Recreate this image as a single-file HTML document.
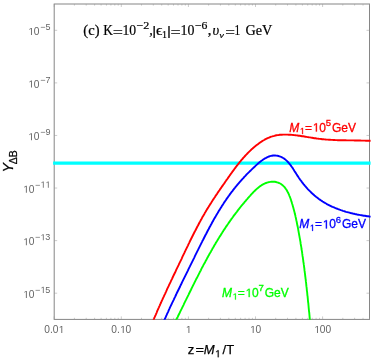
<!DOCTYPE html>
<html><head><meta charset="utf-8"><title>plot</title>
<style>
html,body{margin:0;padding:0;background:#fff;}
body{width:374px;height:360px;overflow:hidden;position:relative;font-family:"Liberation Sans",sans-serif;}
</style></head><body>
<svg width="374" height="360" viewBox="0 0 374 360" style="position:absolute;left:0;top:0">
<rect width="374" height="360" fill="#fff"/>
<defs><clipPath id="cp"><rect x="53.10" y="2.90" width="317.50" height="316.90"/></clipPath></defs>
<rect x="54.20" y="4.00" width="315.30" height="315.40" fill="none" stroke="#868686" stroke-width="1"/>
<path d="M54.20 293.20 h3 M369.50 293.20 h-3 M54.20 240.62 h3 M369.50 240.62 h-3 M54.20 188.04 h3 M369.50 188.04 h-3 M54.20 135.46 h3 M369.50 135.46 h-3 M54.20 82.88 h3 M369.50 82.88 h-3 M54.20 30.30 h3 M369.50 30.30 h-3 M54.20 319.40 v-3.0 M54.20 4.00 v3.0 M74.40 319.40 v-1.6 M74.40 4.00 v1.6 M86.21 319.40 v-1.6 M86.21 4.00 v1.6 M94.60 319.40 v-1.6 M94.60 4.00 v1.6 M101.10 319.40 v-1.6 M101.10 4.00 v1.6 M106.41 319.40 v-1.6 M106.41 4.00 v1.6 M110.91 319.40 v-1.6 M110.91 4.00 v1.6 M114.80 319.40 v-1.6 M114.80 4.00 v1.6 M118.23 319.40 v-1.6 M118.23 4.00 v1.6 M121.30 319.40 v-3.0 M121.30 4.00 v3.0 M141.50 319.40 v-1.6 M141.50 4.00 v1.6 M153.31 319.40 v-1.6 M153.31 4.00 v1.6 M161.70 319.40 v-1.6 M161.70 4.00 v1.6 M168.20 319.40 v-1.6 M168.20 4.00 v1.6 M173.51 319.40 v-1.6 M173.51 4.00 v1.6 M178.01 319.40 v-1.6 M178.01 4.00 v1.6 M181.90 319.40 v-1.6 M181.90 4.00 v1.6 M185.33 319.40 v-1.6 M185.33 4.00 v1.6 M188.40 319.40 v-3.0 M188.40 4.00 v3.0 M208.60 319.40 v-1.6 M208.60 4.00 v1.6 M220.41 319.40 v-1.6 M220.41 4.00 v1.6 M228.80 319.40 v-1.6 M228.80 4.00 v1.6 M235.30 319.40 v-1.6 M235.30 4.00 v1.6 M240.61 319.40 v-1.6 M240.61 4.00 v1.6 M245.11 319.40 v-1.6 M245.11 4.00 v1.6 M249.00 319.40 v-1.6 M249.00 4.00 v1.6 M252.43 319.40 v-1.6 M252.43 4.00 v1.6 M255.50 319.40 v-3.0 M255.50 4.00 v3.0 M275.70 319.40 v-1.6 M275.70 4.00 v1.6 M287.51 319.40 v-1.6 M287.51 4.00 v1.6 M295.90 319.40 v-1.6 M295.90 4.00 v1.6 M302.40 319.40 v-1.6 M302.40 4.00 v1.6 M307.71 319.40 v-1.6 M307.71 4.00 v1.6 M312.21 319.40 v-1.6 M312.21 4.00 v1.6 M316.10 319.40 v-1.6 M316.10 4.00 v1.6 M319.53 319.40 v-1.6 M319.53 4.00 v1.6 M322.60 319.40 v-3.0 M322.60 4.00 v3.0 M342.80 319.40 v-1.6 M342.80 4.00 v1.6 M354.61 319.40 v-1.6 M354.61 4.00 v1.6 M363.00 319.40 v-1.6 M363.00 4.00 v1.6 M369.50 319.40 v-1.6 M369.50 4.00 v1.6" stroke="#999" stroke-width="0.5" fill="none"/>
<g clip-path="url(#cp)" fill="none" stroke-linecap="butt" stroke-linejoin="round">
<line x1="52.20" y1="163.2" x2="371.50" y2="163.2" stroke="#00ffff" stroke-width="3.3"/>
<path d="M150.1 328.3 L150.5 327.3 L150.9 326.3 L151.3 325.2 L151.8 324.2 L152.2 323.1 L152.6 322.1 L153.1 321.0 L153.5 320.0 L153.9 319.0 L154.3 317.9 L154.8 316.9 L155.2 315.9 L155.7 314.8 L156.1 313.8 L156.6 312.8 L157.0 311.7 L157.4 310.7 L157.9 309.7 L158.3 308.6 L158.8 307.6 L159.2 306.6 L159.7 305.6 L160.2 304.5 L160.6 303.5 L161.1 302.5 L161.5 301.5 L162.0 300.4 L162.5 299.4 L162.9 298.4 L163.4 297.4 L163.9 296.4 L164.3 295.3 L164.8 294.3 L165.3 293.3 L165.7 292.3 L166.2 291.3 L166.7 290.2 L167.1 289.2 L167.6 288.2 L168.1 287.2 L168.6 286.2 L169.0 285.2 L169.5 284.1 L170.0 283.1 L170.5 282.1 L170.9 281.1 L171.4 280.1 L171.9 279.1 L172.4 278.0 L172.9 277.0 L173.3 276.0 L173.8 275.0 L174.3 274.0 L174.8 273.0 L175.3 272.0 L175.8 270.9 L176.2 269.9 L176.7 268.9 L177.2 267.9 L177.7 266.9 L178.2 265.9 L178.7 264.9 L179.1 263.8 L179.6 262.8 L180.1 261.8 L180.6 260.8 L181.1 259.8 L181.6 258.8 L182.0 257.8 L182.5 256.7 L183.0 255.7 L183.5 254.7 L184.0 253.7 L184.5 252.7 L184.9 251.7 L185.4 250.7 L185.9 249.6 L186.4 248.6 L186.9 247.6 L187.4 246.6 L187.9 245.6 L188.3 244.6 L188.8 243.6 L189.3 242.6 L189.8 241.5 L190.3 240.5 L190.8 239.5 L191.3 238.5 L191.8 237.5 L192.3 236.5 L192.8 235.5 L193.3 234.5 L193.8 233.5 L194.3 232.5 L194.8 231.5 L195.4 230.5 L195.9 229.5 L196.4 228.5 L196.9 227.5 L197.4 226.5 L198.0 225.5 L198.5 224.5 L199.0 223.5 L199.5 222.5 L200.1 221.5 L200.6 220.6 L201.2 219.6 L201.7 218.6 L202.2 217.6 L202.8 216.6 L203.3 215.7 L203.9 214.7 L204.5 213.7 L205.0 212.7 L205.6 211.8 L206.2 210.8 L206.7 209.8 L207.3 208.9 L207.9 207.9 L208.5 207.0 L209.1 206.0 L209.7 205.1 L210.3 204.1 L210.9 203.2 L211.5 202.2 L212.1 201.3 L212.7 200.3 L213.3 199.4 L213.9 198.4 L214.6 197.5 L215.2 196.6 L215.8 195.6 L216.4 194.7 L217.1 193.8 L217.7 192.8 L218.3 191.9 L218.9 191.0 L219.6 190.1 L220.2 189.1 L220.9 188.2 L221.5 187.3 L222.1 186.4 L222.8 185.4 L223.4 184.5 L224.1 183.6 L224.7 182.7 L225.3 181.8 L226.0 180.8 L226.6 179.9 L227.3 179.0 L227.9 178.1 L228.5 177.2 L229.2 176.3 L229.8 175.3 L230.5 174.4 L231.1 173.5 L231.8 172.6 L232.4 171.7 L233.1 170.8 L233.8 169.9 L234.4 169.0 L235.1 168.1 L235.8 167.2 L236.4 166.3 L237.1 165.4 L237.8 164.6 L238.5 163.7 L239.2 162.8 L239.9 161.9 L240.6 161.1 L241.3 160.2 L242.1 159.3 L242.8 158.5 L243.5 157.7 L244.3 156.8 L245.0 156.0 L245.8 155.1 L246.6 154.3 L247.4 153.5 L248.2 152.7 L249.0 151.9 L249.8 151.1 L250.6 150.3 L251.4 149.5 L252.3 148.8 L253.1 148.0 L254.0 147.2 L254.9 146.5 L255.8 145.8 L256.7 145.1 L257.6 144.4 L258.5 143.7 L259.4 143.0 L260.3 142.4 L261.3 141.7 L262.2 141.1 L263.2 140.5 L264.2 140.0 L265.1 139.4 L266.1 138.9 L267.1 138.4 L268.1 138.0 L269.2 137.5 L270.2 137.1 L271.2 136.7 L272.3 136.4 L273.3 136.1 L274.4 135.8 L275.4 135.5 L276.5 135.3 L277.6 135.1 L278.7 135.0 L279.7 134.8 L280.8 134.7 L281.9 134.7 L283.1 134.6 L284.2 134.6 L285.3 134.6 L286.4 134.6 L287.5 134.6 L288.6 134.7 L289.7 134.7 L290.9 134.8 L292.0 134.9 L293.1 135.0 L294.2 135.1 L295.3 135.2 L296.5 135.4 L297.6 135.5 L298.7 135.7 L299.8 135.8 L300.9 136.0 L302.1 136.2 L303.2 136.3 L304.3 136.5 L305.4 136.7 L306.5 136.9 L307.6 137.1 L308.8 137.3 L309.9 137.4 L311.0 137.6 L312.1 137.8 L313.2 138.0 L314.4 138.2 L315.5 138.3 L316.6 138.5 L317.7 138.6 L318.8 138.8 L319.9 138.9 L321.1 139.0 L322.2 139.2 L323.3 139.3 L324.4 139.4 L325.5 139.5 L326.6 139.6 L327.8 139.6 L328.9 139.7 L330.0 139.8 L331.1 139.9 L332.2 139.9 L333.4 140.0 L334.5 140.0 L335.6 140.1 L336.7 140.1 L337.8 140.2 L339.0 140.2 L340.1 140.2 L341.2 140.2 L342.3 140.3 L343.4 140.3 L344.6 140.3 L345.7 140.3 L346.8 140.4 L347.9 140.4 L349.0 140.4 L350.2 140.4 L351.3 140.4 L352.4 140.4 L353.5 140.4 L354.6 140.5 L355.8 140.5 L356.9 140.5 L358.0 140.5 L359.1 140.5 L360.3 140.5 L361.4 140.6 L362.5 140.6 L363.6 140.6 L364.8 140.6 L365.9 140.7 L367.0 140.7 L368.1 140.7 L369.3 140.8 L370.4 140.8 L371.5 140.9 L372.6 140.9 L373.8 141.0 L374.9 141.1 L376.0 141.1" stroke="#ff0000" stroke-width="1.9"/>
<path d="M160.8 328.3 L161.2 327.3 L161.7 326.2 L162.1 325.2 L162.6 324.2 L163.0 323.1 L163.5 322.1 L163.9 321.1 L164.4 320.0 L164.8 319.0 L165.3 318.0 L165.8 316.9 L166.2 315.9 L166.7 314.9 L167.1 313.8 L167.6 312.8 L168.1 311.8 L168.5 310.8 L169.0 309.7 L169.5 308.7 L169.9 307.7 L170.4 306.7 L170.9 305.7 L171.4 304.7 L171.8 303.6 L172.3 302.6 L172.8 301.6 L173.3 300.6 L173.8 299.6 L174.2 298.6 L174.7 297.6 L175.2 296.6 L175.7 295.5 L176.2 294.5 L176.6 293.5 L177.1 292.5 L177.6 291.5 L178.1 290.5 L178.6 289.5 L179.1 288.5 L179.6 287.5 L180.1 286.5 L180.5 285.5 L181.0 284.5 L181.5 283.5 L182.0 282.4 L182.5 281.4 L183.0 280.4 L183.5 279.4 L184.0 278.4 L184.5 277.4 L185.0 276.4 L185.5 275.4 L186.0 274.4 L186.5 273.4 L187.0 272.4 L187.5 271.4 L188.0 270.4 L188.4 269.4 L188.9 268.4 L189.4 267.4 L189.9 266.4 L190.4 265.3 L190.9 264.3 L191.4 263.3 L191.9 262.3 L192.4 261.3 L192.9 260.3 L193.4 259.3 L193.9 258.3 L194.4 257.3 L194.9 256.2 L195.4 255.2 L195.9 254.2 L196.4 253.2 L196.9 252.2 L197.4 251.2 L197.9 250.2 L198.4 249.1 L198.9 248.1 L199.4 247.1 L199.9 246.1 L200.4 245.1 L200.9 244.1 L201.4 243.1 L201.9 242.1 L202.4 241.0 L203.0 240.0 L203.5 239.0 L204.0 238.0 L204.5 237.0 L205.0 236.0 L205.5 235.0 L206.1 234.0 L206.6 233.0 L207.1 232.0 L207.6 231.0 L208.1 230.0 L208.7 229.0 L209.2 228.0 L209.7 227.0 L210.3 226.0 L210.8 225.0 L211.4 224.0 L211.9 223.0 L212.4 222.0 L213.0 221.1 L213.5 220.1 L214.1 219.1 L214.7 218.1 L215.2 217.1 L215.8 216.2 L216.3 215.2 L216.9 214.2 L217.5 213.3 L218.1 212.3 L218.6 211.3 L219.2 210.4 L219.8 209.4 L220.4 208.5 L221.0 207.5 L221.6 206.6 L222.2 205.6 L222.8 204.7 L223.4 203.8 L224.0 202.8 L224.6 201.9 L225.2 201.0 L225.9 200.1 L226.5 199.1 L227.1 198.2 L227.8 197.3 L228.4 196.4 L229.1 195.5 L229.7 194.6 L230.4 193.7 L231.0 192.8 L231.7 191.9 L232.4 191.1 L233.0 190.2 L233.7 189.3 L234.4 188.4 L235.1 187.6 L235.8 186.7 L236.5 185.9 L237.2 185.0 L237.9 184.2 L238.6 183.3 L239.4 182.5 L240.1 181.6 L240.8 180.8 L241.6 180.0 L242.3 179.1 L243.1 178.3 L243.8 177.5 L244.6 176.7 L245.4 175.9 L246.1 175.0 L246.9 174.2 L247.7 173.4 L248.5 172.6 L249.3 171.8 L250.1 171.0 L251.0 170.2 L251.8 169.4 L252.6 168.6 L253.5 167.8 L254.3 167.0 L255.2 166.2 L256.0 165.4 L256.9 164.6 L257.8 163.8 L258.7 163.0 L259.5 162.3 L260.5 161.6 L261.4 160.8 L262.3 160.2 L263.2 159.5 L264.2 158.9 L265.1 158.3 L266.1 157.8 L267.0 157.3 L268.0 156.9 L269.0 156.5 L270.0 156.1 L271.0 155.9 L272.0 155.7 L273.1 155.5 L274.1 155.5 L275.2 155.5 L276.2 155.6 L277.3 155.7 L278.4 156.0 L279.5 156.3 L280.5 156.7 L281.6 157.1 L282.6 157.7 L283.6 158.3 L284.5 158.9 L285.4 159.6 L286.3 160.4 L287.1 161.2 L287.9 162.0 L288.7 162.9 L289.5 163.8 L290.2 164.7 L290.9 165.6 L291.5 166.5 L292.2 167.4 L292.8 168.3 L293.4 169.3 L294.0 170.2 L294.6 171.2 L295.2 172.1 L295.8 173.0 L296.4 174.0 L297.0 174.9 L297.6 175.9 L298.2 176.8 L298.8 177.7 L299.5 178.7 L300.1 179.6 L300.8 180.5 L301.5 181.4 L302.1 182.3 L302.8 183.2 L303.5 184.1 L304.3 185.0 L305.0 185.9 L305.7 186.7 L306.5 187.6 L307.2 188.4 L308.0 189.3 L308.8 190.1 L309.6 190.9 L310.4 191.7 L311.2 192.5 L312.0 193.3 L312.8 194.0 L313.7 194.8 L314.5 195.5 L315.4 196.2 L316.2 196.9 L317.1 197.6 L318.0 198.3 L318.9 199.0 L319.8 199.6 L320.8 200.3 L321.7 200.9 L322.6 201.5 L323.6 202.1 L324.5 202.6 L325.5 203.2 L326.5 203.8 L327.4 204.3 L328.4 204.8 L329.4 205.3 L330.4 205.8 L331.4 206.3 L332.4 206.8 L333.5 207.2 L334.5 207.7 L335.5 208.1 L336.6 208.5 L337.6 208.9 L338.7 209.3 L339.7 209.7 L340.8 210.1 L341.8 210.4 L342.9 210.8 L344.0 211.1 L345.1 211.5 L346.1 211.8 L347.2 212.1 L348.3 212.4 L349.4 212.7 L350.5 213.0 L351.6 213.2 L352.7 213.5 L353.8 213.7 L354.9 214.0 L356.0 214.2 L357.1 214.5 L358.2 214.7 L359.3 214.9 L360.5 215.1 L361.6 215.3 L362.7 215.5 L363.8 215.7 L364.9 215.8 L366.0 216.0 L367.1 216.2 L368.2 216.3 L369.3 216.5 L370.5 216.6 L371.6 216.7 L372.7 216.9 L373.8 217.0 L374.9 217.1 L376.0 217.2" stroke="#0000ff" stroke-width="1.9"/>
<path d="M171.9 328.3 L172.5 327.3 L173.0 326.3 L173.5 325.3 L174.0 324.2 L174.5 323.2 L175.0 322.2 L175.5 321.2 L176.0 320.1 L176.5 319.1 L177.1 318.1 L177.6 317.1 L178.1 316.0 L178.6 315.0 L179.1 314.0 L179.6 313.0 L180.1 311.9 L180.6 310.9 L181.1 309.9 L181.6 308.9 L182.1 307.8 L182.6 306.8 L183.1 305.8 L183.6 304.8 L184.1 303.7 L184.6 302.7 L185.1 301.7 L185.6 300.7 L186.1 299.7 L186.6 298.6 L187.1 297.6 L187.6 296.6 L188.1 295.6 L188.6 294.6 L189.1 293.5 L189.6 292.5 L190.1 291.5 L190.6 290.5 L191.1 289.5 L191.6 288.4 L192.1 287.4 L192.6 286.4 L193.1 285.4 L193.6 284.4 L194.1 283.4 L194.6 282.3 L195.1 281.3 L195.6 280.3 L196.1 279.3 L196.7 278.3 L197.2 277.3 L197.7 276.3 L198.2 275.3 L198.7 274.3 L199.2 273.3 L199.7 272.3 L200.3 271.3 L200.8 270.3 L201.3 269.2 L201.8 268.2 L202.3 267.2 L202.9 266.2 L203.4 265.2 L203.9 264.2 L204.5 263.3 L205.0 262.3 L205.5 261.3 L206.1 260.3 L206.6 259.3 L207.1 258.3 L207.7 257.3 L208.2 256.3 L208.8 255.3 L209.3 254.3 L209.9 253.3 L210.4 252.4 L211.0 251.4 L211.5 250.4 L212.1 249.4 L212.6 248.4 L213.2 247.5 L213.8 246.5 L214.3 245.5 L214.9 244.5 L215.5 243.6 L216.1 242.6 L216.6 241.6 L217.2 240.7 L217.8 239.7 L218.4 238.7 L219.0 237.8 L219.6 236.8 L220.2 235.9 L220.8 234.9 L221.4 233.9 L222.0 233.0 L222.6 232.0 L223.2 231.1 L223.8 230.1 L224.5 229.2 L225.1 228.2 L225.7 227.3 L226.3 226.4 L227.0 225.4 L227.6 224.5 L228.3 223.5 L228.9 222.6 L229.6 221.7 L230.2 220.7 L230.9 219.8 L231.5 218.9 L232.2 218.0 L232.9 217.0 L233.5 216.1 L234.2 215.2 L234.9 214.3 L235.6 213.4 L236.3 212.5 L237.0 211.6 L237.7 210.6 L238.4 209.7 L239.1 208.8 L239.8 207.9 L240.5 207.0 L241.2 206.1 L242.0 205.2 L242.7 204.4 L243.4 203.5 L244.2 202.6 L244.9 201.7 L245.7 200.8 L246.4 199.9 L247.2 199.1 L247.9 198.2 L248.7 197.3 L249.5 196.4 L250.3 195.6 L251.0 194.7 L251.8 193.8 L252.6 193.0 L253.4 192.1 L254.3 191.3 L255.1 190.5 L255.9 189.7 L256.8 188.9 L257.6 188.2 L258.5 187.5 L259.4 186.8 L260.3 186.1 L261.2 185.5 L262.1 184.9 L263.1 184.3 L264.0 183.8 L265.0 183.4 L266.0 183.0 L267.1 182.6 L268.1 182.3 L269.2 182.1 L270.3 181.9 L271.4 181.8 L272.5 181.7 L273.7 181.7 L274.8 181.8 L275.9 182.0 L277.0 182.3 L278.1 182.6 L279.1 183.0 L280.1 183.5 L281.0 184.0 L281.9 184.7 L282.7 185.3 L283.5 186.1 L284.3 186.9 L285.0 187.7 L285.6 188.6 L286.3 189.5 L286.9 190.5 L287.4 191.5 L288.0 192.5 L288.5 193.6 L289.0 194.7 L289.4 195.8 L289.9 196.9 L290.3 198.0 L290.7 199.1 L291.1 200.3 L291.4 201.4 L291.8 202.5 L292.1 203.7 L292.5 204.8 L292.8 205.9 L293.1 207.0 L293.4 208.1 L293.7 209.2 L294.0 210.3 L294.3 211.4 L294.6 212.5 L294.8 213.6 L295.1 214.7 L295.4 215.8 L295.6 216.9 L295.9 218.0 L296.1 219.1 L296.3 220.2 L296.6 221.3 L296.8 222.4 L297.0 223.5 L297.2 224.5 L297.4 225.6 L297.7 226.7 L297.9 227.8 L298.1 228.9 L298.3 230.0 L298.5 231.1 L298.7 232.3 L298.9 233.4 L299.1 234.5 L299.3 235.6 L299.5 236.7 L299.7 237.8 L299.9 238.9 L300.1 240.0 L300.3 241.1 L300.5 242.2 L300.6 243.4 L300.8 244.5 L301.0 245.6 L301.2 246.7 L301.4 247.8 L301.5 249.0 L301.7 250.1 L301.9 251.2 L302.1 252.3 L302.2 253.4 L302.4 254.6 L302.5 255.7 L302.7 256.8 L302.9 257.9 L303.0 259.1 L303.2 260.2 L303.3 261.3 L303.5 262.5 L303.7 263.6 L303.8 264.7 L304.0 265.8 L304.1 267.0 L304.3 268.1 L304.4 269.2 L304.5 270.4 L304.7 271.5 L304.8 272.6 L305.0 273.8 L305.1 274.9 L305.2 276.0 L305.4 277.2 L305.5 278.3 L305.7 279.4 L305.8 280.6 L305.9 281.7 L306.1 282.8 L306.2 284.0 L306.3 285.1 L306.4 286.2 L306.6 287.4 L306.7 288.5 L306.8 289.6 L306.9 290.8 L307.1 291.9 L307.2 293.0 L307.3 294.2 L307.4 295.3 L307.6 296.4 L307.7 297.6 L307.8 298.7 L307.9 299.8 L308.0 301.0 L308.1 302.1 L308.3 303.2 L308.4 304.4 L308.5 305.5 L308.6 306.6 L308.7 307.8 L308.8 308.9 L308.9 310.0 L309.0 311.1 L309.2 312.3 L309.3 313.4 L309.4 314.5 L309.5 315.6 L309.6 316.8 L309.7 317.9 L309.8 319.0 L309.9 320.1 L310.0 321.3 L310.1 322.4 L310.2 323.5 L310.3 324.6 L310.5 325.7 L310.6 326.8 L310.7 328.0" stroke="#00ff00" stroke-width="1.9"/>
</g>
<g style="will-change:transform">
<path transform="translate(22.99,297.90) scale(0.004980,-0.004980)" d="M582 0V1237L264 1010V1180L597 1409H763V0Z" fill="#646464"/>
<text transform="translate(28.66,297.90) scale(0.2500,0.2500)" font-size="40.8" fill="#646464" style="font-family:'Liberation Sans',sans-serif">0</text>
<text transform="translate(35.06,292.90) scale(0.2500,0.2500)" font-size="36" fill="#646464" style="font-family:'Liberation Sans',sans-serif">−</text>
<path transform="translate(40.32,292.90) scale(0.004395,-0.004395)" d="M582 0V1237L264 1010V1180L597 1409H763V0Z" fill="#646464"/>
<text transform="translate(45.32,292.90) scale(0.2500,0.2500)" font-size="36" fill="#646464" style="font-family:'Liberation Sans',sans-serif">5</text>
<path transform="translate(22.99,245.32) scale(0.004980,-0.004980)" d="M582 0V1237L264 1010V1180L597 1409H763V0Z" fill="#646464"/>
<text transform="translate(28.66,245.32) scale(0.2500,0.2500)" font-size="40.8" fill="#646464" style="font-family:'Liberation Sans',sans-serif">0</text>
<text transform="translate(35.06,240.32) scale(0.2500,0.2500)" font-size="36" fill="#646464" style="font-family:'Liberation Sans',sans-serif">−</text>
<path transform="translate(40.32,240.32) scale(0.004395,-0.004395)" d="M582 0V1237L264 1010V1180L597 1409H763V0Z" fill="#646464"/>
<text transform="translate(45.32,240.32) scale(0.2500,0.2500)" font-size="36" fill="#646464" style="font-family:'Liberation Sans',sans-serif">3</text>
<path transform="translate(22.99,192.74) scale(0.004980,-0.004980)" d="M582 0V1237L264 1010V1180L597 1409H763V0Z" fill="#646464"/>
<text transform="translate(28.66,192.74) scale(0.2500,0.2500)" font-size="40.8" fill="#646464" style="font-family:'Liberation Sans',sans-serif">0</text>
<text transform="translate(35.06,187.74) scale(0.2500,0.2500)" font-size="36" fill="#646464" style="font-family:'Liberation Sans',sans-serif">−</text>
<path transform="translate(40.32,187.74) scale(0.004395,-0.004395)" d="M582 0V1237L264 1010V1180L597 1409H763V0Z" fill="#646464"/>
<path transform="translate(45.32,187.74) scale(0.004395,-0.004395)" d="M582 0V1237L264 1010V1180L597 1409H763V0Z" fill="#646464"/>
<path transform="translate(28.09,140.16) scale(0.004980,-0.004980)" d="M582 0V1237L264 1010V1180L597 1409H763V0Z" fill="#646464"/>
<text transform="translate(33.76,140.16) scale(0.2500,0.2500)" font-size="40.8" fill="#646464" style="font-family:'Liberation Sans',sans-serif">0</text>
<text transform="translate(40.16,135.16) scale(0.2500,0.2500)" font-size="36" fill="#646464" style="font-family:'Liberation Sans',sans-serif">−9</text>
<path transform="translate(28.09,87.58) scale(0.004980,-0.004980)" d="M582 0V1237L264 1010V1180L597 1409H763V0Z" fill="#646464"/>
<text transform="translate(33.76,87.58) scale(0.2500,0.2500)" font-size="40.8" fill="#646464" style="font-family:'Liberation Sans',sans-serif">0</text>
<text transform="translate(40.16,82.58) scale(0.2500,0.2500)" font-size="36" fill="#646464" style="font-family:'Liberation Sans',sans-serif">−7</text>
<path transform="translate(28.09,35.00) scale(0.004980,-0.004980)" d="M582 0V1237L264 1010V1180L597 1409H763V0Z" fill="#646464"/>
<text transform="translate(33.76,35.00) scale(0.2500,0.2500)" font-size="40.8" fill="#646464" style="font-family:'Liberation Sans',sans-serif">0</text>
<text transform="translate(40.16,30.00) scale(0.2500,0.2500)" font-size="36" fill="#646464" style="font-family:'Liberation Sans',sans-serif">−5</text>
<text transform="translate(44.27,333.00) scale(0.2500,0.2500)" font-size="40.8" fill="#646464" style="font-family:'Liberation Sans',sans-serif">0.0</text>
<path transform="translate(58.45,333.00) scale(0.004980,-0.004980)" d="M582 0V1237L264 1010V1180L597 1409H763V0Z" fill="#646464"/>
<text transform="translate(111.37,333.00) scale(0.2500,0.2500)" font-size="40.8" fill="#646464" style="font-family:'Liberation Sans',sans-serif">0.</text>
<path transform="translate(119.88,333.00) scale(0.004980,-0.004980)" d="M582 0V1237L264 1010V1180L597 1409H763V0Z" fill="#646464"/>
<text transform="translate(125.55,333.00) scale(0.2500,0.2500)" font-size="40.8" fill="#646464" style="font-family:'Liberation Sans',sans-serif">0</text>
<path transform="translate(185.56,333.00) scale(0.004980,-0.004980)" d="M582 0V1237L264 1010V1180L597 1409H763V0Z" fill="#646464"/>
<path transform="translate(249.83,333.00) scale(0.004980,-0.004980)" d="M582 0V1237L264 1010V1180L597 1409H763V0Z" fill="#646464"/>
<text transform="translate(255.50,333.00) scale(0.2500,0.2500)" font-size="40.8" fill="#646464" style="font-family:'Liberation Sans',sans-serif">0</text>
<path transform="translate(314.09,333.00) scale(0.004980,-0.004980)" d="M582 0V1237L264 1010V1180L597 1409H763V0Z" fill="#646464"/>
<text transform="translate(319.76,333.00) scale(0.2500,0.2500)" font-size="40.8" fill="#646464" style="font-family:'Liberation Sans',sans-serif">00</text>
<text transform="translate(187.70,354.20) scale(0.2500,0.2500)" font-size="52" fill="#000" stroke="#000" stroke-width="1.00" style="font-family:'Liberation Sans',sans-serif">z</text>
<text transform="translate(195.60,354.20) scale(0.2809,0.2500)" font-size="52" fill="#000" stroke="#000" stroke-width="1.00" style="font-family:'Liberation Sans',sans-serif">=</text>
<text transform="translate(203.76,354.20) scale(0.2500,0.2500)" font-size="52" fill="#000" stroke="#000" stroke-width="1.00" style="font-family:'Liberation Sans',sans-serif;font-style:italic">M</text>
<path transform="translate(214.91,357.20) scale(0.004883,-0.004883)" d="M582 0V1237L264 1010V1180L597 1409H763V0Z" fill="#000" stroke="#000" stroke-width="51.2"/>
<text transform="translate(222.60,354.20) scale(0.2500,0.2500)" font-size="52" fill="#000" stroke="#000" stroke-width="1.00" style="font-family:'Liberation Sans',sans-serif">/T</text>
<g transform="translate(13.3,171.0) rotate(-90)">
<text transform="translate(-1.50,0.00) scale(0.2500,0.2500)" font-size="56.8" fill="#000" stroke="#000" stroke-width="1.00" style="font-family:'Liberation Sans',sans-serif;font-style:italic">Y</text>
<text transform="translate(6.79,3.40) scale(0.2500,0.2500)" font-size="42" fill="#000" stroke="#000" stroke-width="1.00" style="font-family:'Liberation Sans',sans-serif">ΔB</text>
</g>
<text transform="translate(289.32,131.60) scale(0.2500,0.2500)" font-size="48" fill="#ff0000" stroke="#ff0000" stroke-width="1.20" style="font-family:'Liberation Sans',sans-serif;font-style:italic">M</text>
<path transform="translate(299.64,134.10) scale(0.004395,-0.004395)" d="M582 0V1237L264 1010V1180L597 1409H763V0Z" fill="#ff0000" stroke="#ff0000" stroke-width="68.3"/>
<text transform="translate(304.94,131.60) scale(0.2500,0.2500)" font-size="48" fill="#ff0000" stroke="#ff0000" stroke-width="1.20" style="font-family:'Liberation Sans',sans-serif">=</text>
<path transform="translate(312.45,131.60) scale(0.005859,-0.005859)" d="M582 0V1237L264 1010V1180L597 1409H763V0Z" fill="#ff0000" stroke="#ff0000" stroke-width="51.2"/>
<text transform="translate(319.13,131.60) scale(0.2500,0.2500)" font-size="48" fill="#ff0000" stroke="#ff0000" stroke-width="1.20" style="font-family:'Liberation Sans',sans-serif">0</text>
<text transform="translate(325.82,125.80) scale(0.2500,0.2500)" font-size="38.4" fill="#ff0000" stroke="#ff0000" stroke-width="1.20" style="font-family:'Liberation Sans',sans-serif">5</text>
<text transform="translate(331.98,131.60) scale(0.2500,0.2500)" font-size="48" fill="#ff0000" stroke="#ff0000" stroke-width="1.20" style="font-family:'Liberation Sans',sans-serif">GeV</text>
<text transform="translate(299.32,228.40) scale(0.2500,0.2500)" font-size="48" fill="#0000ff" stroke="#0000ff" stroke-width="1.20" style="font-family:'Liberation Sans',sans-serif;font-style:italic">M</text>
<path transform="translate(309.64,230.90) scale(0.004395,-0.004395)" d="M582 0V1237L264 1010V1180L597 1409H763V0Z" fill="#0000ff" stroke="#0000ff" stroke-width="68.3"/>
<text transform="translate(314.94,228.40) scale(0.2500,0.2500)" font-size="48" fill="#0000ff" stroke="#0000ff" stroke-width="1.20" style="font-family:'Liberation Sans',sans-serif">=</text>
<path transform="translate(322.45,228.40) scale(0.005859,-0.005859)" d="M582 0V1237L264 1010V1180L597 1409H763V0Z" fill="#0000ff" stroke="#0000ff" stroke-width="51.2"/>
<text transform="translate(329.13,228.40) scale(0.2500,0.2500)" font-size="48" fill="#0000ff" stroke="#0000ff" stroke-width="1.20" style="font-family:'Liberation Sans',sans-serif">0</text>
<text transform="translate(335.70,222.60) scale(0.2500,0.2500)" font-size="38.4" fill="#0000ff" stroke="#0000ff" stroke-width="1.20" style="font-family:'Liberation Sans',sans-serif">6</text>
<text transform="translate(341.98,228.40) scale(0.2500,0.2500)" font-size="48" fill="#0000ff" stroke="#0000ff" stroke-width="1.20" style="font-family:'Liberation Sans',sans-serif">GeV</text>
<text transform="translate(222.12,297.10) scale(0.2500,0.2500)" font-size="48" fill="#00ff00" stroke="#00ff00" stroke-width="1.20" style="font-family:'Liberation Sans',sans-serif;font-style:italic">M</text>
<path transform="translate(232.44,299.60) scale(0.004395,-0.004395)" d="M582 0V1237L264 1010V1180L597 1409H763V0Z" fill="#00ff00" stroke="#00ff00" stroke-width="68.3"/>
<text transform="translate(237.74,297.10) scale(0.2500,0.2500)" font-size="48" fill="#00ff00" stroke="#00ff00" stroke-width="1.20" style="font-family:'Liberation Sans',sans-serif">=</text>
<path transform="translate(245.25,297.10) scale(0.005859,-0.005859)" d="M582 0V1237L264 1010V1180L597 1409H763V0Z" fill="#00ff00" stroke="#00ff00" stroke-width="51.2"/>
<text transform="translate(251.93,297.10) scale(0.2500,0.2500)" font-size="48" fill="#00ff00" stroke="#00ff00" stroke-width="1.20" style="font-family:'Liberation Sans',sans-serif">0</text>
<text transform="translate(258.50,291.30) scale(0.2500,0.2500)" font-size="38.4" fill="#00ff00" stroke="#00ff00" stroke-width="1.20" style="font-family:'Liberation Sans',sans-serif">7</text>
<text transform="translate(264.78,297.10) scale(0.2500,0.2500)" font-size="48" fill="#00ff00" stroke="#00ff00" stroke-width="1.20" style="font-family:'Liberation Sans',sans-serif">GeV</text>
<text transform="translate(83.35,35.30) scale(0.2601,0.2500)" font-size="56" fill="#000" stroke="#000" stroke-width="0.80" style="font-family:'Liberation Serif',serif">(c)</text>
<text transform="translate(103.33,35.30) scale(0.2406,0.2500)" font-size="56" fill="#000" stroke="#000" stroke-width="0.80" style="font-family:'Liberation Serif',serif">K</text>
<text transform="translate(112.71,36.80) scale(0.3231,0.2500)" font-size="56" fill="#000" stroke="#000" stroke-width="0.80" style="font-family:'Liberation Serif',serif">=</text>
<text transform="translate(122.38,35.30) scale(0.2441,0.2500)" font-size="56" fill="#000" stroke="#000" stroke-width="0.80" style="font-family:'Liberation Serif',serif">10</text>
<text transform="translate(136.40,28.90) scale(0.3007,0.2500)" font-size="40" fill="#000" stroke="#000" stroke-width="0.80" style="font-family:'Liberation Serif',serif">−2</text>
<text transform="translate(149.23,35.30) scale(0.2549,0.2500)" font-size="56" fill="#000" stroke="#000" stroke-width="0.80" style="font-family:'Liberation Serif',serif">,</text>
<text transform="translate(152.01,35.30) scale(0.3986,0.2107)" font-size="56" fill="#000" stroke="#000" stroke-width="0.80" style="font-family:'Liberation Serif',serif">|</text>
<text transform="translate(156.07,35.30) scale(0.2801,0.2500)" font-size="56" fill="#000" stroke="#000" stroke-width="0.80" style="font-family:'Liberation Serif',serif">ϵ</text>
<text transform="translate(162.02,37.80) scale(0.2500,0.2500)" font-size="40" fill="#000" stroke="#000" stroke-width="0.80" style="font-family:'Liberation Serif',serif">1</text>
<text transform="translate(166.81,35.30) scale(0.3986,0.2107)" font-size="56" fill="#000" stroke="#000" stroke-width="0.80" style="font-family:'Liberation Serif',serif">|</text>
<text transform="translate(170.51,36.80) scale(0.3231,0.2500)" font-size="56" fill="#000" stroke="#000" stroke-width="0.80" style="font-family:'Liberation Serif',serif">=</text>
<text transform="translate(180.56,35.30) scale(0.2482,0.2500)" font-size="56" fill="#000" stroke="#000" stroke-width="0.80" style="font-family:'Liberation Serif',serif">10</text>
<text transform="translate(194.91,28.90) scale(0.2931,0.2500)" font-size="40" fill="#000" stroke="#000" stroke-width="0.80" style="font-family:'Liberation Serif',serif">−6</text>
<text transform="translate(207.55,35.30) scale(0.2913,0.2500)" font-size="56" fill="#000" stroke="#000" stroke-width="0.80" style="font-family:'Liberation Serif',serif">,</text>
<text transform="translate(212.55,35.30) scale(0.2602,0.2500)" font-size="56" fill="#000" stroke="#000" stroke-width="0.80" style="font-family:'Liberation Serif',serif;font-style:italic">υ</text>
<text transform="translate(219.27,37.80) scale(0.2662,0.2300)" font-size="40" fill="#000" stroke="#000" stroke-width="0.80" style="font-family:'Liberation Serif',serif;font-style:italic">ν</text>
<text transform="translate(225.15,36.80) scale(0.3077,0.2500)" font-size="56" fill="#000" stroke="#000" stroke-width="0.80" style="font-family:'Liberation Serif',serif">=</text>
<text transform="translate(234.49,35.30) scale(0.2024,0.2500)" font-size="56" fill="#000" stroke="#000" stroke-width="0.80" style="font-family:'Liberation Serif',serif">1</text>
<text transform="translate(245.53,35.30) scale(0.2540,0.2500)" font-size="56" fill="#000" stroke="#000" stroke-width="0.80" style="font-family:'Liberation Serif',serif">GeV</text>
</g>
</svg>
</body></html>
